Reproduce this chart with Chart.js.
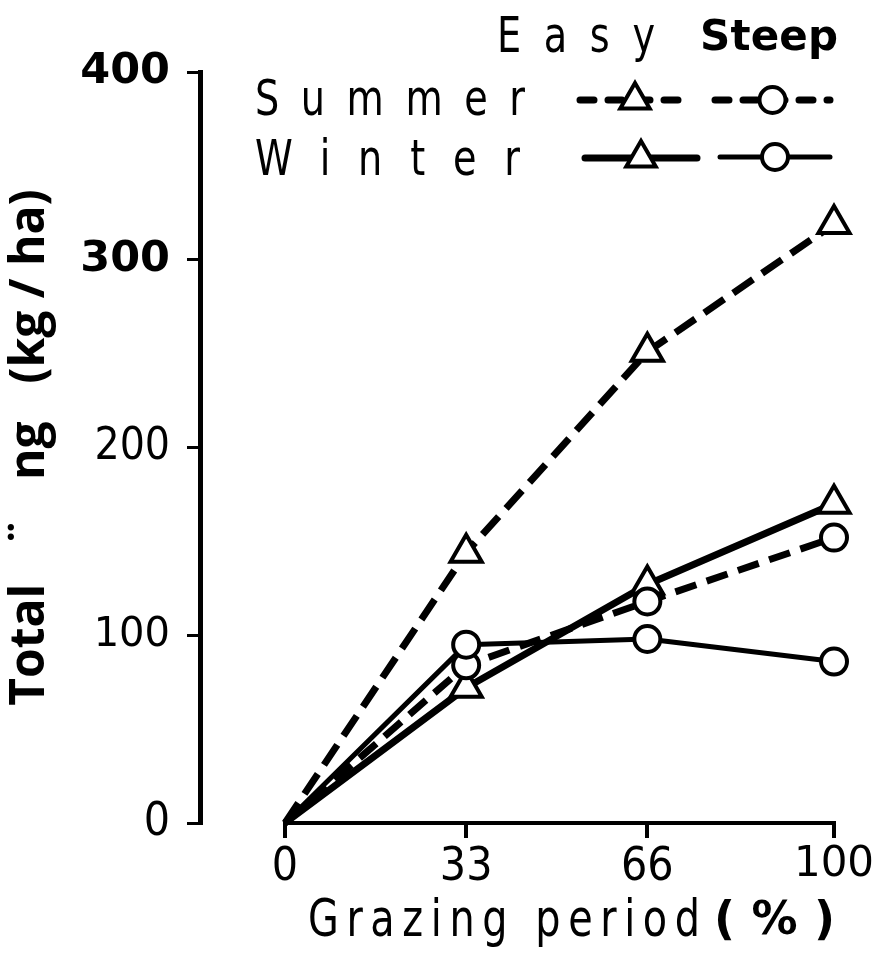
<!DOCTYPE html>
<html><head><meta charset="utf-8">
<script src="https://cdn.jsdelivr.net/npm/chart.js@4.4.1/dist/chart.umd.min.js"></script>
<style>html,body{margin:0;padding:0;background:#fff;} #wrap{width:882px;height:956px;}</style>
</head><body><div id="wrap"><canvas id="c" width="882" height="956"></canvas></div>
<script>
// ---- data ----
const grazingPeriod = [0, 33, 66, 100];
const summerEasy = [0, 144, 251, 319];
const winterEasy = [0, 72, 127, 170];
const summerSteep = [0, 84, 118, 152];
const winterSteep = [0, 95, 98, 86];
const xTickValues = [0, 33, 66, 100];
const yTickValues = [0, 100, 200, 300, 400];
const seriesNames = ['Summer Easy', 'Winter Easy', 'Summer Steep', 'Winter Steep'];
const legendHeader = ['Easy', 'Steep'];
const legendRows = ['Summer', 'Winter'];
const xTitle = 'Grazing period';
const xTitleUnit = '(%)';
const yTitle = 'Total   ¨   ng   (kg / ha)';

// ---- styles ----
const NARROW = '"Liberation Sans Narrow", "DejaVu Sans Condensed", "Liberation Sans", sans-serif';
const ROUND = '"DejaVu Sans", sans-serif';
const BOLDT = '"Open Sans", "DejaVu Sans", sans-serif';

function pts(vals) { return grazingPeriod.map((x, i) => ({ x: x, y: vals[i] })); }
function radii(r) { return grazingPeriod.map(x => x === 0 ? 0 : r); }

const datasets = [
  { label: seriesNames[0], data: pts(summerEasy), borderDash: [24, 11], borderWidth: 7, pointStyle: 'triangle', pointRadius: radii(18), order: 4 },
  { label: seriesNames[1], data: pts(winterEasy), borderDash: [], borderWidth: 7, pointStyle: 'triangle', pointRadius: radii(18), order: 3 },
  { label: seriesNames[2], data: pts(summerSteep), borderDash: [22, 11], borderWidth: 7, pointStyle: 'circle', pointRadius: radii(13), order: 2 },
  { label: seriesNames[3], data: pts(winterSteep), borderDash: [], borderWidth: 5, pointStyle: 'circle', pointRadius: radii(13), order: 1 }
].map(d => Object.assign({
  borderColor: '#000', pointBorderColor: '#000', pointBackgroundColor: '#fff',
  pointBorderWidth: 4, pointHoverRadius: 0, fill: false, tension: 0, clip: false,
  borderCapStyle: 'butt', borderJoinStyle: 'round'
}, d));

function drawMarker(ctx, style, r, x, y) {
  ctx.save();
  ctx.fillStyle = '#fff'; ctx.strokeStyle = '#000'; ctx.lineWidth = 4; ctx.setLineDash([]);
  ctx.beginPath();
  if (style === 'circle') {
    ctx.arc(x, y, r, 0, Math.PI * 2);
  } else {
    for (let k = 0; k < 3; k++) {
      const a = k * 2 * Math.PI / 3;
      const px = x + Math.sin(a) * r, py = y - Math.cos(a) * r;
      if (k === 0) ctx.moveTo(px, py); else ctx.lineTo(px, py);
    }
    ctx.closePath();
  }
  ctx.fill(); ctx.stroke();
  ctx.restore();
}

// text spread between x1 and x2 (horizontal squeeze hs, spacing computed to fit)
function fitText(ctx, text, x1, x2, y, font, hs) {
  ctx.save();
  ctx.font = font;
  ctx.fillStyle = '#000';
  ctx.textBaseline = 'alphabetic';
  ctx.textAlign = 'left';
  ctx.translate(x1, y);
  ctx.scale(hs, 1);
  const chars = Array.from(text);
  const w = ctx.measureText(text).width;
  const target = (x2 - x1) / hs;
  const sp = chars.length > 1 ? Math.max(0, (target - w) / (chars.length - 1)) : 0;
  if ('letterSpacing' in ctx) ctx.letterSpacing = sp + 'px';
  ctx.fillText(text, 0, 0);
  ctx.restore();
}

const decorPlugin = {
  id: 'decor',
  beforeDatasetsDraw(chart) {
    const ctx = chart.ctx, xs = chart.scales.x, area = chart.chartArea;
    ctx.save();
    ctx.strokeStyle = '#000'; ctx.lineWidth = 4; ctx.lineCap = 'square';
    ctx.beginPath();
    ctx.moveTo(xs.getPixelForValue(xTickValues[0]), area.bottom);
    ctx.lineTo(xs.getPixelForValue(xTickValues[xTickValues.length - 1]), area.bottom);
    ctx.stroke();
    ctx.restore();
  },
  afterDraw(chart) {
    const ctx = chart.ctx;
    // x-axis title
    fitText(ctx, xTitle, 308, 700, 936, '52px ' + NARROW, 0.85);
    fitText(ctx, xTitleUnit, 714, 835, 934, 'bold 46px ' + ROUND, 1);
    // legend header
    fitText(ctx, legendHeader[0], 497, 655, 52, '50px ' + NARROW, 0.85);
    fitText(ctx, legendHeader[1], 700, 838, 50, 'bold 42px ' + ROUND, 1);
    // legend rows
    fitText(ctx, legendRows[0], 255, 525, 115, '50px ' + NARROW, 0.85);
    fitText(ctx, legendRows[1], 255, 520, 175, '50px ' + NARROW, 0.85);
    const ds = chart.data.datasets;
    const samples = [
      { d: ds[0], x1: 580, x2: 690, y: 100 },
      { d: ds[2], x1: 715, x2: 830, y: 100 },
      { d: ds[1], x1: 585, x2: 697, y: 158 },
      { d: ds[3], x1: 720, x2: 830, y: 157 }
    ];
    samples.forEach(s => {
      ctx.save();
      ctx.strokeStyle = '#000';
      ctx.lineWidth = s.d.borderWidth;
      ctx.lineCap = 'round';
      ctx.setLineDash(s.d.borderDash.length ? [14, 14] : []);
      ctx.beginPath(); ctx.moveTo(s.x1, s.y); ctx.lineTo(s.x2, s.y); ctx.stroke();
      ctx.restore();
      drawMarker(ctx, s.d.pointStyle, s.d.pointStyle === 'circle' ? 13 : 17, (s.x1 + s.x2) / 2, s.y);
    });
  }
};

function yTickFont(ctx) {
  const v = ctx.tick ? ctx.tick.value : 0;
  if (v === 400 || v === 300) return { family: ROUND, size: 43, weight: 'bold' };
  if (v === 200) return { family: NARROW, size: 44, weight: 'normal' };
  if (v === 100) return { family: ROUND, size: 40, weight: 'normal' };
  return { family: NARROW, size: 46, weight: 'normal' };
}
function xTickFont(ctx) {
  const v = ctx.tick ? ctx.tick.value : 0;
  if (v === 100) return { family: ROUND, size: 42, weight: 'normal' };
  return { family: NARROW, size: 46, weight: 'normal' };
}

new Chart(document.getElementById('c'), {
  type: 'line',
  data: { datasets: datasets },
  plugins: [decorPlugin],
  options: {
    responsive: false,
    animation: false,
    events: [],
    layout: { padding: { top: 72, right: 48, bottom: 0, left: 0 } },
    plugins: { legend: { display: false }, tooltip: { enabled: false }, title: { display: false } },
    scales: {
      x: {
        type: 'linear',
        min: -15.48, max: 100,
        afterFit(s) { s.height = 133; },
        afterBuildTicks(s) { s.ticks = xTickValues.map(v => ({ value: v })); },
        border: { display: false },
        grid: { display: true, drawOnChartArea: false, drawTicks: true, tickLength: 15, color: '#000', lineWidth: 4 },
        ticks: { color: '#000', padding: 2, font: xTickFont, maxRotation: 0, autoSkip: false, callback: v => String(v) }
      },
      y: {
        type: 'linear',
        min: 0, max: 400,
        afterFit(s) { s.width = 200; },
        afterBuildTicks(s) { s.ticks = yTickValues.map(v => ({ value: v })); },
        border: { display: true, color: '#000', width: 5 },
        grid: { display: true, drawOnChartArea: false, drawTicks: true, tickLength: 13, color: '#000', lineWidth: 3 },
        ticks: { color: '#000', padding: 17, font: yTickFont, callback: v => String(v) },
        title: { display: true, text: yTitle, color: '#000', padding: { top: 2, bottom: 0 }, font: { family: BOLDT, size: 48, weight: 'bold' } }
      }
    }
  }
});
</script>
</body></html>
